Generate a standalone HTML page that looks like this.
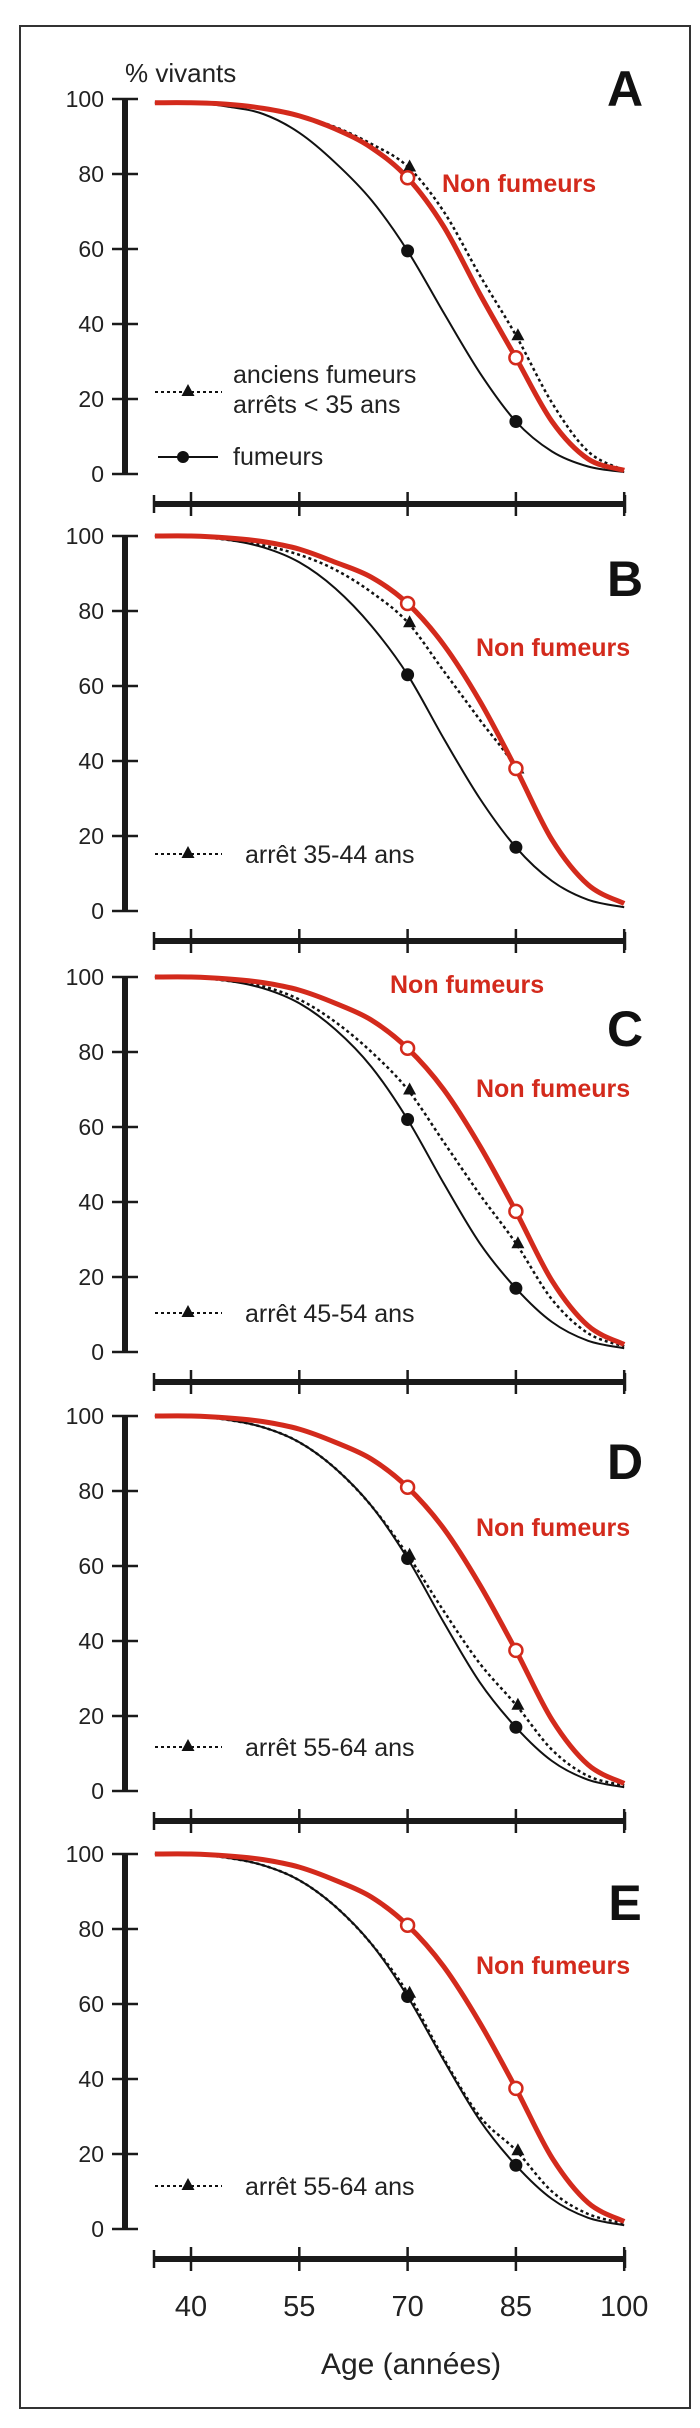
<!DOCTYPE html>
<html><head><meta charset="utf-8"><style>
html,body{margin:0;padding:0;background:#fff}
svg{display:block}
text{font-family:"Liberation Sans",sans-serif}
</style></head><body>
<svg id="chart" width="700" height="2428" viewBox="0 0 700 2428" xmlns="http://www.w3.org/2000/svg">
<rect x="20" y="26" width="670" height="2382" fill="#fff" stroke="#333" stroke-width="2"/>
<text x="125" y="82" font-size="26" fill="#222">% vivants</text>
<text x="411" y="2374" font-size="30" fill="#222" text-anchor="middle">Age (années)</text>
</svg>
<script>
const ages = [35,40,45,50,55,60,65,70,75,80,85,90,95,100];
const markerAges = [70,85];
const yTicks = [0,20,40,60,80,100];
const xTicks = [40,55,70,85,100];
const panelLetters = ['A','B','C','D','E'];
const legendLabels = ['','arrêt 35-44 ans','arrêt 45-54 ans','arrêt 55-64 ans','arrêt 55-64 ans'];
const nonA = [99,99,98.6,97.5,95.5,92,87,79,66,48,31,14,4,1];
const smkA = [99,99,98,96,91,83,73,59.5,43,27,14,6,2,0.5];
const forA = [99,99,98.6,97.5,95.5,92.5,88,82,70,53,37,19,6,1];
const nonB = [100,100,99.5,98.5,96.5,93,89,82,71,56,38,19,7,2];
const smkB = [100,100,99,97,93,86,76,63,46,30,17,8,3,1];
const forB = [100,100,99,97.5,95,91,85,77,64,51,38,19,7,2];
const nonC = [100,100,99.5,98.5,96.5,93,88.5,81,70,55,37.5,19,7,2];
const smkC = [100,100,99,97,93,86,76,62,45,29,17,8,3,1];
const forC = [100,100,99,97.5,94,88,80,70,56,42,29,14,5,1.5];
const nonD = [100,100,99.5,98.5,96.5,93,88.5,81,70,55,37.5,19,7,2];
const smkD = [100,100,99,97,93,86,76,62,45,29,17,8,3,1];
const forD = [100,100,99,97,93,86,76,63,48,34,23,11,4,1.5];
const nonE = [100,100,99.5,98.5,96.5,93,88.5,81,70,55,37.5,19,7,2];
const smkE = [100,100,99,97,93,86,76,62,45,29,17,8,3,1];
const forE = [100,100,99,97,93,86,76,63,45.5,30,21,10,4,1.5];

const NS='http://www.w3.org/2000/svg';
const svg=document.getElementById('chart');
const panelTops=[99,536,977,1416,1854];
const series=[[nonA,smkA,forA],[nonB,smkB,forB],[nonC,smkC,forC],[nonD,smkD,forD],[nonE,smkE,forE]];
const letterOff=[-29,24,33,27,30];
const legendOff=[293,318,336,331,332];
const RED='#d32a1c';
function xs(a){return 191+(a-40)*7.22;}
function mk(tag,attrs,parent){const e=document.createElementNS(NS,tag);for(const k in attrs)e.setAttribute(k,attrs[k]);(parent||svg).appendChild(e);return e;}
function pathD(pts){
  let d='M'+pts[0][0]+','+pts[0][1];
  for(let i=0;i<pts.length-1;i++){
    const p0=pts[i-1]||pts[i],p1=pts[i],p2=pts[i+1],p3=pts[i+2]||p2;
    const c1=[p1[0]+(p2[0]-p0[0])/6,p1[1]+(p2[1]-p0[1])/6];
    const c2=[p2[0]-(p3[0]-p1[0])/6,p2[1]-(p3[1]-p1[1])/6];
    d+=' C'+c1[0].toFixed(1)+','+c1[1].toFixed(1)+' '+c2[0].toFixed(1)+','+c2[1].toFixed(1)+' '+p2[0].toFixed(1)+','+p2[1].toFixed(1);
  }
  return d;
}
function tri(g,cx,cy,name){const t=mk('path',{d:`M${cx},${cy-7} L${cx+6.5},${cy+5} L${cx-6.5},${cy+5} Z`,fill:'#111'},g);return t;}

panelTops.forEach((top,p)=>{
  const g=mk('g',{});
  
  
  const ys=v=>top+(100-v)*3.75;
  // y axis
  const ax=mk('line',{x1:125,y1:ys(100),x2:125,y2:ys(0),stroke:'#1a1a1a','stroke-width':6},g);
  
  
  yTicks.forEach(v=>{
    const tk=mk('line',{x1:112,y1:ys(v),x2:138,y2:ys(v),stroke:'#1a1a1a','stroke-width':2.5},g);
    
    
    const tl=mk('text',{x:104,y:ys(v)+8,'font-size':23,'text-anchor':'end',fill:'#222'},g);
    tl.textContent=v;
    
    
  });
  // x axis bar
  const by=ys(0)+30;
  const bar=mk('line',{x1:154,y1:by,x2:625,y2:by,stroke:'#1a1a1a','stroke-width':6},g);
  
  
  [154,625].forEach(x=>{const c=mk('line',{x1:x,y1:by-9,x2:x,y2:by+9,stroke:'#1a1a1a','stroke-width':2.5},g);});
  xTicks.forEach(a=>{
    const tk=mk('line',{x1:xs(a),y1:by-12,x2:xs(a),y2:by+12,stroke:'#1a1a1a','stroke-width':2.5},g);
    
    
    if(p===4){
      const tl=mk('text',{x:xs(a),y:2316,'font-size':29,'text-anchor':'middle',fill:'#222'},g);
      tl.textContent=a;
      
      
    }
  });
  const [non,smk,frm]=series[p];
  const pts=arr=>ages.map((a,i)=>[xs(a),ys(arr[i])]);
  const sp=mk('path',{d:pathD(pts(smk)),fill:'none',stroke:'#111','stroke-width':2},g);
  
  
  const fp=mk('path',{d:pathD(pts(frm)),fill:'none',stroke:'#111','stroke-width':2.5,'stroke-dasharray':'3,3'},g);
  
  
  const np=mk('path',{d:pathD(pts(non)),fill:'none',stroke:RED,'stroke-width':5},g);
  
  
  markerAges.forEach(a=>{
    const i=ages.indexOf(a);
    const sm=mk('circle',{cx:xs(a),cy:ys(smk[i]),r:6.5,fill:'#111'},g);
    
    
    tri(g,xs(a)+2,ys(frm[i]),'former-smokers-point');
    const nm=mk('circle',{cx:xs(a),cy:ys(non[i]),r:6.5,fill:'#fff',stroke:RED,'stroke-width':2.5},g);
    
    
  });
  const lt=mk('text',{x:625,y:top+letterOff[p]+36,'font-size':50,'font-weight':'bold','text-anchor':'middle',fill:'#111'},g);
  lt.textContent=panelLetters[p];
  
  
  const nfx=p===0?442:476, nfy=p===0?top+93:top+120;
  const nf=mk('text',{x:nfx,y:nfy,'font-size':25,'font-weight':'bold',fill:RED},g);
  nf.textContent='Non fumeurs';
  
  
  if(p===2){
    const nf2=mk('text',{x:390,y:top+16,'font-size':25,'font-weight':'bold',fill:RED},g);
    nf2.textContent='Non fumeurs';
    
    
  }
  const ly=top+legendOff[p];
  const ll=mk('line',{x1:155,y1:ly,x2:222,y2:ly,stroke:'#111','stroke-width':2,'stroke-dasharray':'3,3'},g);
  
  
  tri(g,188,ly-1,'legend-former-marker');
  if(p===0){
    const t1=mk('text',{x:233,y:383,'font-size':25,fill:'#222'},g);
    t1.textContent='anciens fumeurs';
    
    
    const t2=mk('text',{x:233,y:413,'font-size':25,fill:'#222'},g);
    t2.textContent='arrêts < 35 ans';
    
    
    const sl=mk('line',{x1:158,y1:457,x2:218,y2:457,stroke:'#111','stroke-width':2},g);
    
    
    const sd=mk('circle',{cx:183,cy:457,r:6,fill:'#111'},g);
    
    
    const t3=mk('text',{x:233,y:465,'font-size':25,fill:'#222'},g);
    t3.textContent='fumeurs';
    
    
  } else {
    const t=mk('text',{x:245,y:ly+9,'font-size':25,fill:'#222'},g);
    t.textContent=legendLabels[p];
    
    
  }
});
</script>
</body></html>
